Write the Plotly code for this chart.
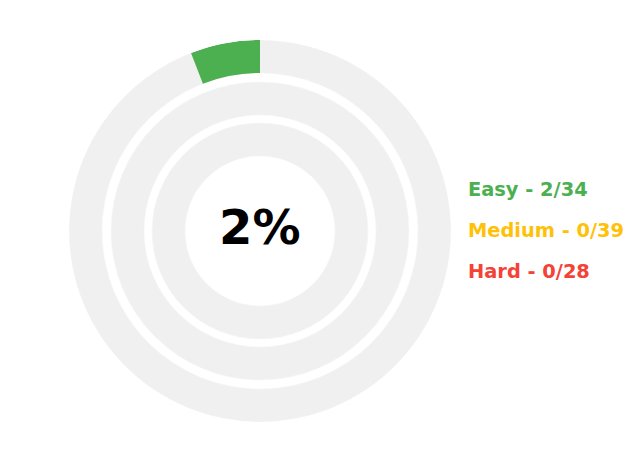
import plotly.graph_objects as go

# ---- data ----
levels = ["Easy", "Medium", "Hard"]
solved = [2, 0, 0]
totals = [34, 39, 28]
colors = ["#4caf50", "#ffc107", "#f44336"]
percent_label = "2%"

# ---- layout config (px) ----
W, H = 624, 462
cx, cy, R = 260, 231, 191
rings = [(158, 191), (116, 149), (75, 108)]  # (inner, outer) per level
track = "#f0f0f0"

fig = go.Figure()
for i, lvl in enumerate(levels):
    inner, outer = rings[i]
    fig.add_trace(go.Barpolar(
        r=[outer - inner], base=[inner], theta=[180], width=[360],
        marker=dict(color=track, line=dict(color="#f7f7f7", width=0.6)),
        hoverinfo="skip", showlegend=False))
for i, lvl in enumerate(levels):
    inner, outer = rings[i]
    span = solved[i] / totals[i] * 360
    if span > 0:
        fig.add_trace(go.Barpolar(
            r=[outer - inner], base=[inner], theta=[span / 2], width=[span],
            marker=dict(color=colors[i], line=dict(width=0)),
            name=lvl, showlegend=False))

fig.update_layout(
    width=W, height=H,
    margin=dict(l=0, r=0, t=0, b=0),
    paper_bgcolor="white",
    polar=dict(
        domain=dict(x=[(cx - R) / W, (cx + R) / W], y=[(H - cy - R) / H, (H - cy + R) / H]),
        bgcolor="white",
        bargap=0,
        radialaxis=dict(range=[0, R], visible=False, showgrid=False),
        angularaxis=dict(visible=False, showgrid=False, rotation=90, direction="counterclockwise"),
    ),
    font=dict(family="DejaVu Sans"),
)

fig.add_annotation(x=cx / W, y=1 - 227 / H, xref="paper", yref="paper",
                   text="<b>" + percent_label + "</b>", showarrow=False,
                   font=dict(size=48, color="black", family="DejaVu Sans"),
                   xanchor="center", yanchor="middle")

label_y = [189, 230, 271]
for i, lvl in enumerate(levels):
    fig.add_annotation(x=467 / W, y=1 - label_y[i] / H, xref="paper", yref="paper",
                       text=f"<b>{lvl} - {solved[i]}/{totals[i]}</b>", showarrow=False,
                       font=dict(size=19.4, color=colors[i], family="DejaVu Sans"),
                       xanchor="left", yanchor="middle", borderpad=0)

fig.write_html("out.html")
